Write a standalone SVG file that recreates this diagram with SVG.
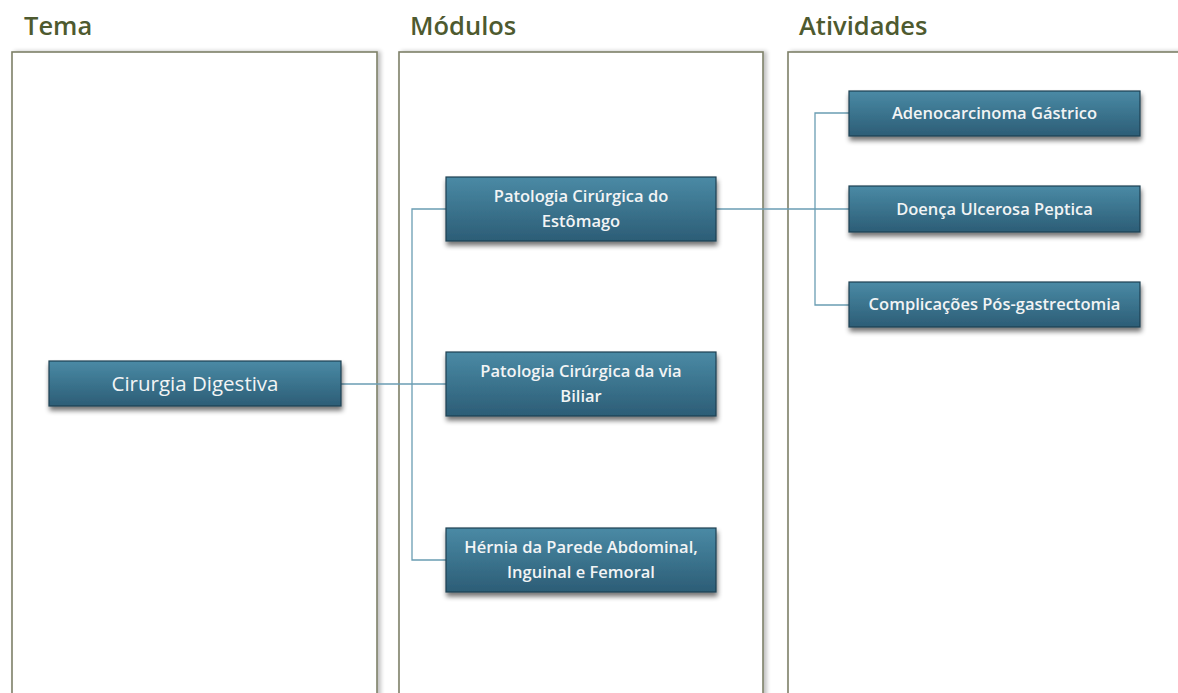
<svg xmlns="http://www.w3.org/2000/svg" width="1178" height="693" viewBox="0 0 1178 693">
  <defs>
    <linearGradient id="boxFill" x1="0" y1="0" x2="0" y2="1">
      <stop offset="0" stop-color="#4a8aa5"/>
      <stop offset="1" stop-color="#2c5d76"/>
    </linearGradient>
    <filter id="boxShadow" x="-10%" y="-20%" width="125%" height="160%">
      <feGaussianBlur in="SourceAlpha" stdDeviation="2.5"/>
      <feOffset dx="1" dy="4" result="b"/>
      <feComponentTransfer><feFuncA type="linear" slope="0.55"/></feComponentTransfer>
      <feMerge><feMergeNode/><feMergeNode in="SourceGraphic"/></feMerge>
    </filter>
    <filter id="panelShadow" x="-5%" y="-5%" width="115%" height="110%">
      <feGaussianBlur in="SourceAlpha" stdDeviation="2"/>
      <feOffset dx="3" dy="0"/>
      <feComponentTransfer><feFuncA type="linear" slope="0.25"/></feComponentTransfer>
      <feMerge><feMergeNode/><feMergeNode in="SourceGraphic"/></feMerge>
    </filter>
  </defs>
  <style>
    .panel { fill: #ffffff; stroke: #7d8068; stroke-width: 1.6; }
    .head { font-family: "Open Sans", "Liberation Sans", sans-serif; font-size: 25.5px; font-weight: 600; fill: #4e5a2f; }
    .box { fill: url(#boxFill); stroke: #1f4052; stroke-width: 1.2; filter: url(#boxShadow); }
    .lbl { font-family: "Open Sans", "Liberation Sans", sans-serif; font-size: 16.5px; font-weight: 600; fill: #f2f4f5; text-anchor: middle; }
    .big { font-size: 20.5px; font-weight: 500; }
    .conn { fill: none; stroke: #6a9db3; stroke-width: 1.3; }
  </style>
  <rect width="1178" height="693" fill="#ffffff"/>

  <!-- column panels -->
  <g id="panels">
    <rect class="panel" x="12" y="52" width="365" height="660" filter="url(#panelShadow)"/>
    <rect class="panel" x="399" y="52" width="364" height="660" filter="url(#panelShadow)"/>
    <rect class="panel" x="788" y="52" width="400" height="660" filter="url(#panelShadow)"/>
    <text class="head" x="24" y="35">Tema</text>
    <text class="head" x="410" y="35">Módulos</text>
    <text class="head" x="799" y="35">Atividades</text>
  </g>

  <!-- connectors -->
  <g id="connectors">
    <path class="conn" d="M341,384 H446"/>
    <path class="conn" d="M446,209 H412 V560 H446"/>
    <path class="conn" d="M716,209 H849"/>
    <path class="conn" d="M849,113 H815 V305 H849"/>
  </g>

  <g id="tema-cirurgia">
    <rect class="box" x="49" y="361" width="292" height="45"/>
    <text class="lbl big" x="195" y="391">Cirurgia Digestiva</text>
  </g>

  <g id="mod-estomago">
    <rect class="box" x="446" y="177" width="270" height="64"/>
    <text class="lbl" x="581" y="202">Patologia Cirúrgica do</text>
    <text class="lbl" x="581" y="227">Estômago</text>
  </g>
  <g id="mod-biliar">
    <rect class="box" x="446" y="352" width="270" height="64"/>
    <text class="lbl" x="581" y="377">Patologia Cirúrgica da via</text>
    <text class="lbl" x="581" y="402">Biliar</text>
  </g>
  <g id="mod-hernia">
    <rect class="box" x="446" y="528" width="270" height="64"/>
    <text class="lbl" x="581" y="553">Hérnia da Parede Abdominal,</text>
    <text class="lbl" x="581" y="578">Inguinal e Femoral</text>
  </g>

  <g id="ativ-adenocarcinoma">
    <rect class="box" x="849" y="91" width="291" height="45"/>
    <text class="lbl" x="994.5" y="119">Adenocarcinoma Gástrico</text>
  </g>
  <g id="ativ-doenca">
    <rect class="box" x="849" y="186" width="291" height="46"/>
    <text class="lbl" x="994.5" y="215">Doença Ulcerosa Peptica</text>
  </g>
  <g id="ativ-complicacoes">
    <rect class="box" x="849" y="282" width="291" height="45"/>
    <text class="lbl" x="994.5" y="310">Complicações Pós-gastrectomia</text>
  </g>
</svg>
